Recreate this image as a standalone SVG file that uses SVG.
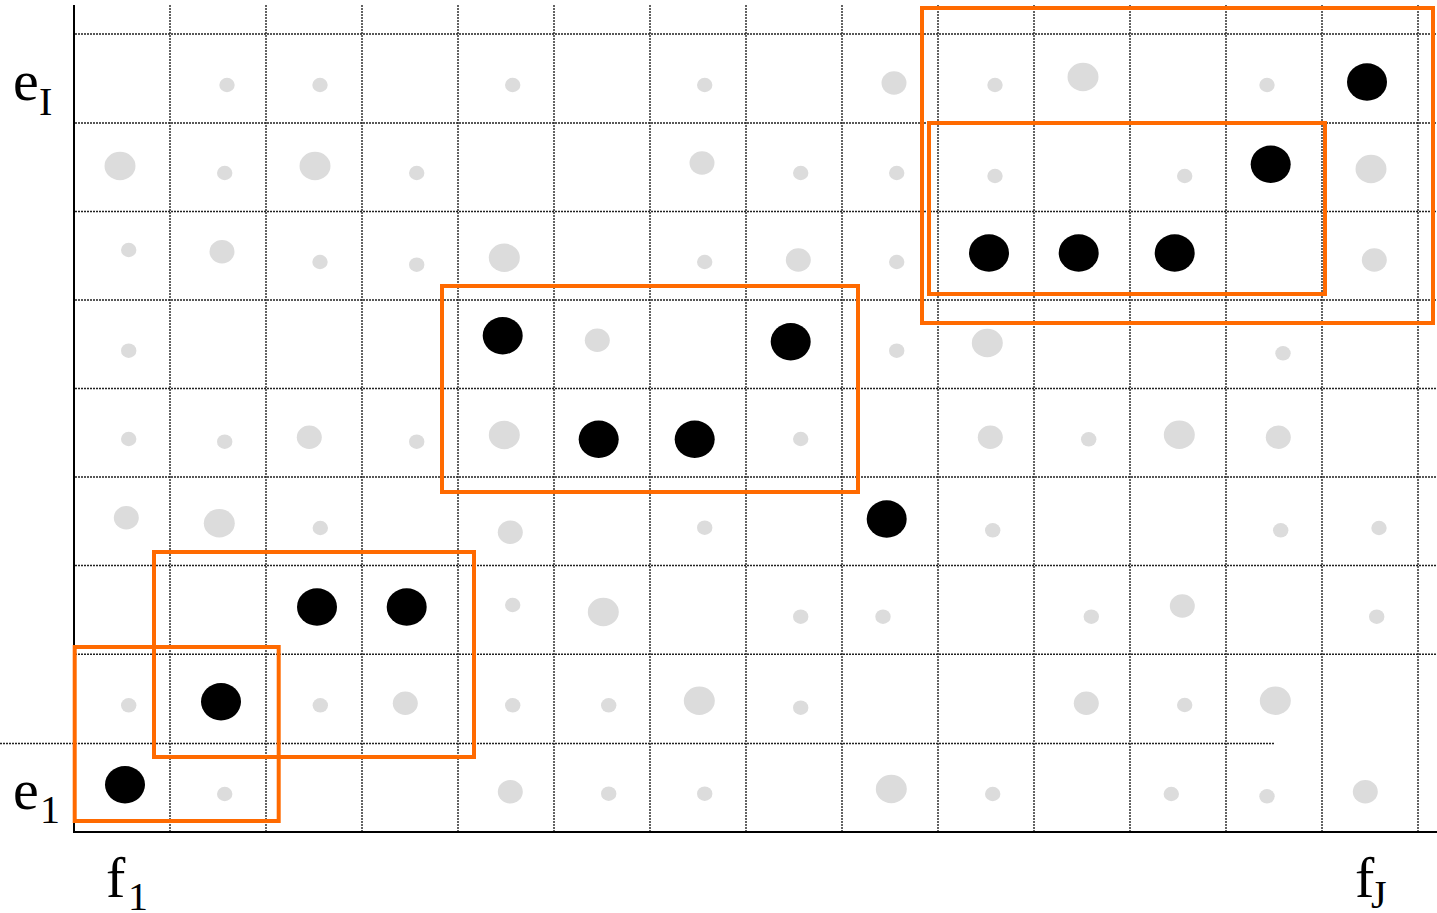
<svg xmlns="http://www.w3.org/2000/svg" width="1437" height="913" viewBox="0 0 1437 913">
<style>
.grid line{stroke:#222;stroke-width:1.4;stroke-dasharray:2 1;fill:none}
.axis{stroke:#000;stroke-width:2;fill:none}
.blk{fill:none;stroke:#ff6a00;stroke-width:4}
.s{fill:#dcdcdc}
.b{fill:#000}
.lbl{font-family:"Liberation Serif","Times New Roman",serif;fill:#000}
.big{font-size:58px}
.sub{font-size:40px}
</style>
<defs>
<ellipse id="ds" class="s" rx="7.7" ry="7.2"/>
<ellipse id="dm" class="s" rx="12.5" ry="11.7"/>
<ellipse id="dl" class="s" rx="15.5" ry="14.2"/>
<ellipse id="db" class="b" rx="20" ry="18.7"/>
</defs>
<rect width="1437" height="913" fill="#fff"/>
<g id="grid" class="grid">
<line x1="170" y1="5" x2="170" y2="831"/>
<line x1="266" y1="5" x2="266" y2="831"/>
<line x1="362" y1="5" x2="362" y2="831"/>
<line x1="458" y1="5" x2="458" y2="831"/>
<line x1="554" y1="5" x2="554" y2="831"/>
<line x1="650" y1="5" x2="650" y2="831"/>
<line x1="746" y1="5" x2="746" y2="831"/>
<line x1="842" y1="5" x2="842" y2="831"/>
<line x1="938" y1="5" x2="938" y2="831"/>
<line x1="1034" y1="5" x2="1034" y2="831"/>
<line x1="1130" y1="5" x2="1130" y2="831"/>
<line x1="1226" y1="5" x2="1226" y2="831"/>
<line x1="1322" y1="5" x2="1322" y2="831"/>
<line x1="1418" y1="5" x2="1418" y2="831"/>
<line x1="75" y1="34" x2="1437" y2="34"/>
<line x1="75" y1="123" x2="1437" y2="123"/>
<line x1="75" y1="211.5" x2="1437" y2="211.5"/>
<line x1="75" y1="300" x2="1437" y2="300"/>
<line x1="75" y1="388.5" x2="1437" y2="388.5"/>
<line x1="75" y1="477" x2="1437" y2="477"/>
<line x1="75" y1="565.5" x2="1437" y2="565.5"/>
<line x1="75" y1="654.3" x2="1437" y2="654.3"/>
<line x1="0" y1="743.5" x2="1275" y2="743.5"/>
</g>
<g id="axes">
<line class="axis" x1="74" y1="5" x2="74" y2="833"/>
<line class="axis" x1="73" y1="832" x2="1437" y2="832"/>
</g>
<g id="dots">
<g id="row-9">
<use href="#ds" x="227" y="85"/><use href="#ds" x="320" y="85"/><use href="#ds" x="512.7" y="85"/><use href="#ds" x="704.7" y="85"/><use href="#dm" x="894" y="83"/><use href="#ds" x="995" y="85"/><use href="#dl" x="1083" y="77"/><use href="#ds" x="1267" y="85"/><use href="#db" x="1367" y="82"/>
</g>
<g id="row-8">
<use href="#dl" x="120" y="166"/><use href="#ds" x="224.7" y="173"/><use href="#dl" x="315" y="166"/><use href="#ds" x="416.7" y="173"/><use href="#dm" x="702" y="163"/><use href="#ds" x="800.7" y="173"/><use href="#ds" x="896.7" y="173"/><use href="#ds" x="995" y="176"/><use href="#ds" x="1184.7" y="176"/><use href="#db" x="1270.7" y="164.3"/><use href="#dl" x="1371" y="169"/>
</g>
<g id="row-7">
<use href="#ds" x="128.7" y="250"/><use href="#dm" x="222" y="251.7"/><use href="#ds" x="320" y="262"/><use href="#ds" x="416.7" y="264.7"/><use href="#dl" x="504.3" y="257.7"/><use href="#ds" x="704.7" y="262"/><use href="#dm" x="798.3" y="260"/><use href="#ds" x="896.7" y="262"/><use href="#db" x="989" y="253"/><use href="#db" x="1078.7" y="253"/><use href="#db" x="1174.7" y="253"/><use href="#dm" x="1374.3" y="260"/>
</g>
<g id="row-6">
<use href="#ds" x="128.7" y="350.7"/><use href="#db" x="502.7" y="335.7"/><use href="#dm" x="597.3" y="340.3"/><use href="#db" x="790.7" y="341.7"/><use href="#ds" x="896.7" y="350.7"/><use href="#dl" x="987.3" y="343"/><use href="#ds" x="1283" y="353.3"/>
</g>
<g id="row-5">
<use href="#ds" x="128.7" y="439"/><use href="#ds" x="224.7" y="441.7"/><use href="#dm" x="309.3" y="437.3"/><use href="#ds" x="416.7" y="441.7"/><use href="#dl" x="504.3" y="435"/><use href="#db" x="598.7" y="439.3"/><use href="#db" x="694.7" y="439.3"/><use href="#ds" x="800.7" y="439"/><use href="#dm" x="990.3" y="437.3"/><use href="#ds" x="1088.7" y="439.3"/><use href="#dl" x="1179.3" y="434.7"/><use href="#dm" x="1278.3" y="437.3"/>
</g>
<g id="row-4">
<use href="#dm" x="126.3" y="517.7"/><use href="#dl" x="219.3" y="523.3"/><use href="#ds" x="320.3" y="528"/><use href="#dm" x="510.3" y="532.3"/><use href="#ds" x="704.7" y="527.7"/><use href="#db" x="886.7" y="519"/><use href="#ds" x="992.7" y="530.3"/><use href="#ds" x="1280.7" y="530.3"/><use href="#ds" x="1379" y="528"/>
</g>
<g id="row-3">
<use href="#db" x="317" y="607"/><use href="#db" x="406.7" y="607"/><use href="#ds" x="512.7" y="605"/><use href="#dl" x="603.3" y="612"/><use href="#ds" x="800.7" y="616.7"/><use href="#ds" x="883" y="616.7"/><use href="#ds" x="1091.3" y="616.7"/><use href="#dm" x="1182.3" y="606"/><use href="#ds" x="1376.7" y="616.7"/>
</g>
<g id="row-2">
<use href="#ds" x="128.7" y="705.3"/><use href="#db" x="221" y="701.7"/><use href="#ds" x="320.3" y="705.3"/><use href="#dm" x="405.3" y="703.3"/><use href="#ds" x="512.7" y="705.3"/><use href="#ds" x="608.7" y="705.3"/><use href="#dl" x="699.3" y="700.7"/><use href="#ds" x="800.7" y="707.7"/><use href="#dm" x="1086.3" y="703.3"/><use href="#ds" x="1184.7" y="705"/><use href="#dl" x="1275.3" y="700.7"/>
</g>
<g id="row-1">
<use href="#db" x="125" y="784.7"/><use href="#ds" x="224.7" y="794"/><use href="#dm" x="510.3" y="791.7"/><use href="#ds" x="608.7" y="793.7"/><use href="#ds" x="704.7" y="793.7"/><use href="#dl" x="891.3" y="789"/><use href="#ds" x="992.7" y="794"/><use href="#ds" x="1171.3" y="794"/><use href="#ds" x="1267" y="796.3"/><use href="#dm" x="1365.3" y="791.7"/>
</g>
</g>
<g id="blocks">
<rect id="block-a" class="blk" x="74.7" y="647" width="204" height="174"/>
<rect id="block-b" class="blk" x="154" y="552" width="320" height="205"/>
<rect id="block-c" class="blk" x="442" y="286" width="416" height="206"/>
<rect id="block-d" class="blk" x="922" y="8" width="511" height="315"/>
<rect id="block-e" class="blk" x="929" y="123" width="396" height="171"/>
</g>
<g id="labels" class="lbl">
<text class="big" x="13" y="100">e</text><text class="sub" x="39" y="115">I</text>
<text class="big" x="13" y="809">e</text><text class="sub" x="40" y="823">1</text>
<text class="big" x="106" y="897">f</text><text class="sub" x="128" y="910">1</text>
<text class="big" x="1355" y="897">f</text><text class="sub" x="1371" y="908">J</text>
</g>
</svg>
